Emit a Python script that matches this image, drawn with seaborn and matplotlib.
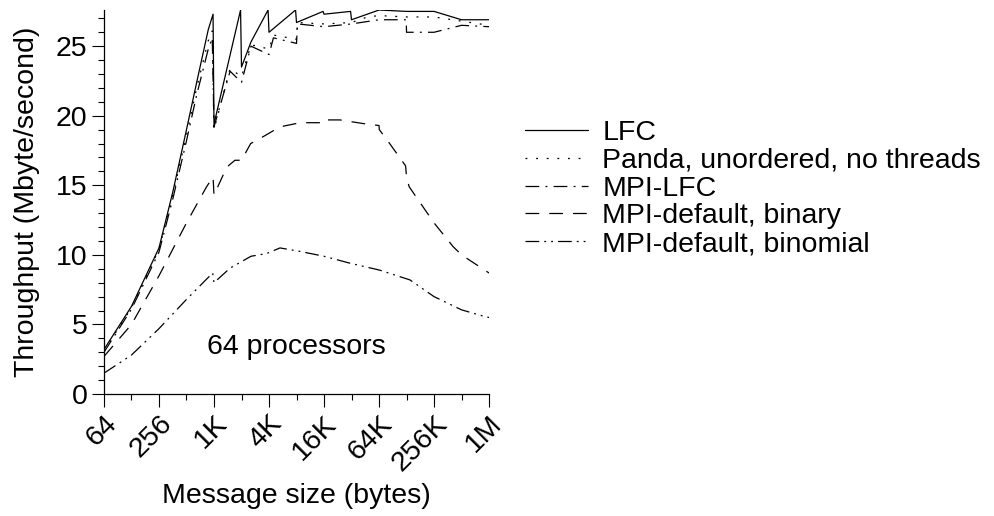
import numpy as np
import pandas as pd
import matplotlib
matplotlib.use("Agg")
import matplotlib.pyplot as plt
from matplotlib.ticker import FixedLocator, NullFormatter
import seaborn as sns

sns.set_style("white")
plt.rcParams["font.family"] = ["Liberation Sans", "DejaVu Sans"]
plt.rcParams["text.color"] = "black"
plt.rcParams["axes.labelcolor"] = "black"
plt.rcParams["xtick.color"] = "black"
plt.rcParams["ytick.color"] = "black"
FS = 20.5

# ---- data (message size in bytes, throughput in Mbyte/s) ----
lfc_x = [64, 128, 256, 362, 512, 662, 887, 1000, 1024, 2000, 2048, 2600, 4000, 4096,
         8000, 8192, 16000, 16384, 32000, 32768, 65536, 131072, 262144, 524288, 1048576]
lfc_y = [3.2, 6.3, 10.5, 14.5, 19.0, 22.4, 26.2, 27.3, 19.4, 27.6, 23.5, 25.3, 27.6, 26.0,
         27.6, 26.7, 27.5, 27.3, 27.5, 26.9, 27.6, 27.5, 27.5, 26.9, 26.9]

panda_x = [64, 128, 256, 362, 512, 662, 887, 980, 1024, 1536, 2048, 2600, 4096, 4580,
           8192, 8400, 16384, 32768, 49000, 65536, 131072, 262144, 524288, 1048576]
panda_y = [3.1, 6.2, 10.4, 14.3, 18.6, 22.0, 25.4, 26.1, 19.0, 23.4, 22.8, 25.1, 24.8, 25.8,
           25.5, 26.7, 26.6, 26.7, 27.1, 27.2, 27.1, 27.1, 26.8, 26.5]

mpilfc_x = [64, 128, 256, 362, 512, 662, 887, 980, 1024, 1536, 2048, 2600, 4096, 4580,
            8192, 8400, 16384, 32768, 65536, 130000, 131072, 262144, 524288, 1048576]
mpilfc_y = [3.0, 6.1, 10.2, 14.0, 18.2, 21.5, 24.8, 25.6, 19.2, 23.2, 22.4, 25.0, 24.4, 25.6,
            25.2, 26.6, 26.4, 26.6, 26.9, 26.9, 26.0, 26.0, 26.5, 26.4]

binary_x = [64, 128, 256, 512, 850, 1000, 1024, 1410, 1735, 2048, 2580, 3540, 5400, 8960,
            16384, 16800, 24500, 48000, 65536, 66000, 79500, 128000, 131072, 140000,
            262144, 423000, 524288, 1048576]
binary_y = [2.7, 5.0, 8.5, 12.3, 14.9, 15.6, 14.3, 16.3, 16.8, 16.8, 18.0, 18.5, 19.2, 19.5,
            19.5, 19.7, 19.7, 19.4, 19.3, 19.0, 18.3, 16.4, 15.6, 14.9,
            12.3, 10.6, 10.0, 8.7]

binomial_x = [64, 128, 256, 512, 990, 1024, 1536, 2600, 3870, 5400, 8960, 16384, 31600,
              67000, 143000, 262144, 524288, 906000, 1048576]
binomial_y = [1.5, 2.8, 4.7, 6.8, 8.7, 8.0, 9.05, 9.9, 10.1, 10.5, 10.25, 9.9, 9.4,
              8.9, 8.2, 7.0, 6.05, 5.6, 5.5]

series_names = ["LFC", "Panda, unordered, no threads", "MPI-LFC",
                "MPI-default, binary", "MPI-default, binomial"]
tick_pos = [64, 256, 1024, 4096, 16384, 65536, 262144, 1048576]
tick_labels = ["64", "256", "1K", "4K", "16K", "64K", "256K", "1M"]

series = [
    (lfc_x, lfc_y, "-"),
    (panda_x, panda_y, (0, (1.5, 7))),
    (mpilfc_x, mpilfc_y, (0, (11, 5, 1.5, 5))),
    (binary_x, binary_y, (0, (11, 8))),
    (binomial_x, binomial_y, (0, (11, 4, 1.5, 4, 1.5, 4))),
]

fig = plt.figure(figsize=(9.95, 5.16), dpi=100)
ax = fig.add_axes([0.1045, 0.2364, 0.387, 0.7442])

for (xs, ys, ls), name in zip(series, series_names):
    df = pd.DataFrame({"size": xs, "tput": ys})
    sns.lineplot(data=df, x="size", y="tput", ax=ax, color="black", lw=0.9,
                 linestyle=ls, sort=False, estimator=None, label=name)

ax.set_xscale("log", base=2)
ax.set_xlim(64, 1048576)
ax.set_ylim(0, 27.6)

ax.xaxis.set_major_locator(FixedLocator(tick_pos))
ax.set_xticklabels(tick_labels, rotation=45, ha="right", va="top",
                   rotation_mode="anchor", fontsize=FS)
ax.xaxis.set_minor_locator(FixedLocator([2 ** k for k in range(7, 20, 2)]))
ax.xaxis.set_minor_formatter(NullFormatter())
ax.set_yticks([0, 5, 10, 15, 20, 25])
ax.set_yticks(np.arange(0, 28, 1), minor=True)
ax.tick_params(axis="y", labelsize=FS)

ax.tick_params(which="major", direction="out", length=9, width=0.8, color="black",
               left=True, bottom=True, pad=3)
ax.tick_params(which="minor", direction="out", length=4.5, width=0.8, color="black",
               left=True, bottom=True)

for side in ["top", "right"]:
    ax.spines[side].set_visible(False)
for side in ["left", "bottom"]:
    ax.spines[side].set_color("black")
    ax.spines[side].set_linewidth(0.9)

ax.set_xlabel("Message size (bytes)", fontsize=FS, labelpad=5)
ax.set_ylabel("Throughput (Mbyte/second)", fontsize=FS, labelpad=11)

ax.text(8192, 3.4, "64 processors", fontsize=FS, ha="center", va="center")

ax.legend(loc="upper left", bbox_to_anchor=(0.528, 0.767), bbox_transform=fig.transFigure,
          frameon=False, fontsize=FS, handlelength=2.2, handletextpad=0.5,
          labelspacing=0.06, borderpad=0, borderaxespad=0)

fig.savefig("out.png", dpi=100)
